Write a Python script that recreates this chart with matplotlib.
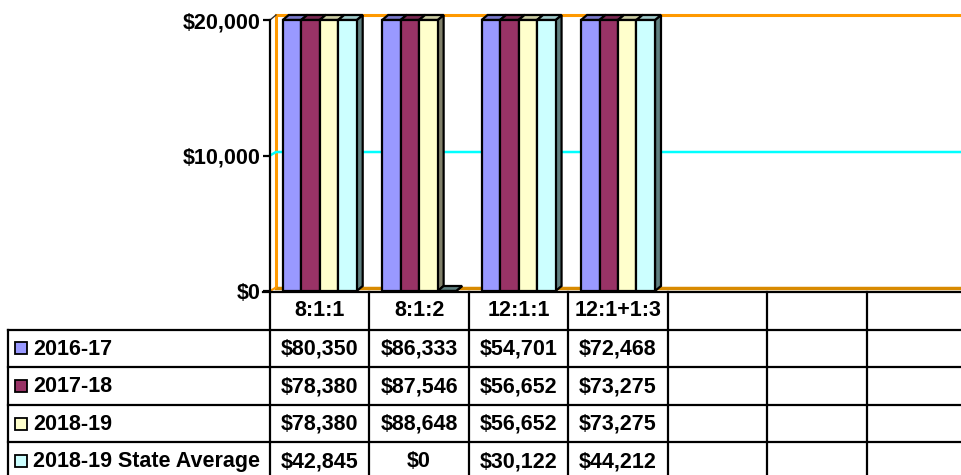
import matplotlib
matplotlib.use("Agg")
import matplotlib.pyplot as plt
from matplotlib.patches import Polygon, Rectangle
import numpy as np

plt.rcParams['font.family'] = ['Liberation Sans', 'DejaVu Sans']
plt.rcParams['font.weight'] = 'bold'

# data
categories = ["8:1:1", "8:1:2", "12:1:1", "12:1+1:3", "", "", ""]
series_names = ["2016-17", "2017-18", "2018-19", "2018-19 State Average"]
v2016_17 = [80350, 86333, 54701, 72468]
v2017_18 = [78380, 87546, 56652, 73275]
v2018_19 = [78380, 88648, 56652, 73275]
v_state = [42845, 0, 30122, 44212]
series_values = [v2016_17, v2017_18, v2018_19, v_state]
yticks = [0, 10000, 20000]
ytick_labels = ["$0", "$10,000", "$20,000"]
ymax = 20000

front_colors = ["#9999FF", "#993366", "#FFFFCC", "#CCFFFF"]
top_colors = ["#7a7acc", "#7a2952", "#cccca3", "#a3cccc"]
side_colors = ["#5c5c99", "#5c1f3d", "#80806a", "#5f8080"]
orange = "#FF9900"
cyan = "#00FFFF"
fs = 15.5

W, H = 961, 475
fig = plt.figure(figsize=(W / 100, H / 100), dpi=100)


def px_box(l, t, r, b):
    return [l / W, 1 - b / H, (r - l) / W, (b - t) / H]


# chart area
ax = fig.add_axes(px_box(270, 20, 966, 291))
ncat = len(categories)
ax.set_xlim(-0.5, ncat - 0.5)
ax.set_ylim(0, ymax)
ux = (966 - 270) / ncat      # pixels per category
uy = (291 - 20) / ymax       # pixels per dollar
dx = 6 / ux
dy = 5 / uy
xl, xr = -0.5, ncat - 0.5

for s in ['top', 'right', 'bottom']:
    ax.spines[s].set_visible(False)
ax.spines['left'].set_linewidth(1.6)
ax.set_xticks([])
ax.set_yticks(yticks)
ax.set_yticklabels(ytick_labels, fontsize=fs, fontweight='bold')
ax.tick_params(axis='y', direction='out', length=5, width=1.6, pad=2)

# back walls
ax.plot([xl + dx, xr + 1], [ymax + dy, ymax + dy], color=orange, lw=2.2, clip_on=False, zorder=1)
ax.plot([xl + dx, xl + dx], [dy, ymax + dy], color=orange, lw=2.2, clip_on=False, zorder=1)
ax.plot([xl + dx, xr + 1], [dy * 0.7, dy * 0.7], color="#D88A00", lw=2.5, clip_on=False, zorder=1)
ax.plot([xl, xl + dx, xr + 1], [10000, 10000 + dy * 0.7, 10000 + dy * 0.7], color=cyan, lw=1.8,
        clip_on=False, zorder=1)
ax.plot([xl, xl + dx], [ymax, ymax + dy], color="#333333", lw=1, clip_on=False, zorder=1)
ax.plot([xl, xl + dx], [0, dy * 0.7], color=orange, lw=1.5, clip_on=False, zorder=1)

# 3d bars
bw = 0.186
z = 3
for i in range(len(v2016_17)):
    for j, vals in enumerate(series_values):
        x0 = i - 2 * bw + j * bw
        h = min(vals[i], ymax)
        side = Polygon([(x0 + bw, 0), (x0 + bw + dx, dy), (x0 + bw + dx, h + dy), (x0 + bw, h)],
                       closed=True, facecolor=side_colors[j], edgecolor='black', lw=1.6,
                       clip_on=False, zorder=z)
        top = Polygon([(x0, h), (x0 + dx, h + dy), (x0 + bw + dx, h + dy), (x0 + bw, h)],
                      closed=True, facecolor=top_colors[j] if h > 0 else side_colors[j],
                      edgecolor='black', lw=1.6, clip_on=False, zorder=z + 0.01)
        front = Rectangle((x0, 0), bw, h, facecolor=front_colors[j], edgecolor='black',
                          lw=1.6, clip_on=False, zorder=z + 0.02)
        ax.add_patch(side)
        ax.add_patch(top)
        ax.add_patch(front)
        z += 0.1

# data table
tax = fig.add_axes(px_box(8, 292, 966, 480))
tl = xl - (270 - 8) / ux
nrows = len(series_names) + 1
tax.set_xlim(tl, xr)
tax.set_ylim(nrows, 0)
tax.axis('off')
row_px = (480 - 292) / nrows

tax.plot([xl - 7 / ux, xr], [0, 0], color='black', lw=1.6, clip_on=False)
for r in range(1, nrows + 1):
    tax.plot([tl, xr], [r, r], color='black', lw=1.6, clip_on=False)
for k in range(ncat + 1):
    tax.plot([xl + k, xl + k], [0, nrows], color='black', lw=1.6, clip_on=False)
tax.plot([tl, tl], [1, nrows], color='black', lw=1.6, clip_on=False)

for i, c in enumerate(categories):
    tax.text(i, 0.5, c, ha='center', va='center', fontsize=fs, fontweight='bold')

for j, name in enumerate(series_names):
    r = j + 1
    sq = 12
    tax.add_patch(Rectangle((tl + 7 / ux, r + 0.5 - sq / 2 / row_px), sq / ux, sq / row_px,
                            facecolor=front_colors[j], edgecolor='black', lw=1.3))
    tax.text(tl + 25 / ux, r + 0.52, name, ha='left', va='center', fontsize=fs, fontweight='bold')
    for i, v in enumerate(series_values[j]):
        tax.text(i, r + 0.52, "${:,}".format(v), ha='center', va='center', fontsize=fs,
                 fontweight='bold')

fig.savefig("out.png", dpi=100)
